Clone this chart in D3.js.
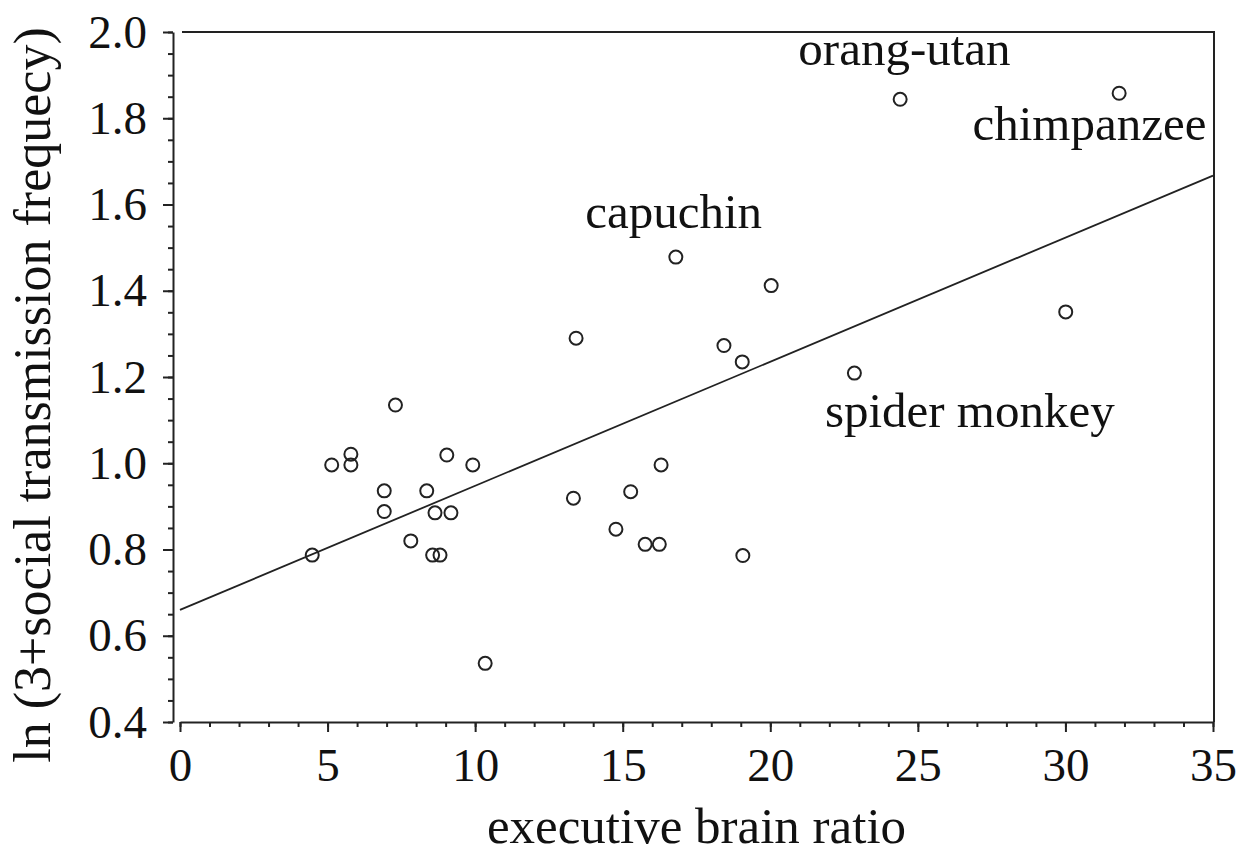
<!DOCTYPE html>
<html>
<head>
<meta charset="utf-8">
<script src="https://cdn.jsdelivr.net/npm/d3@7"></script>
<style>
  body { margin: 0; background: #fff; }
  text { font-family: "Liberation Serif", "Times New Roman", serif; fill: #111; }
</style>
</head>
<body>
<script>
// executive brain ratio (x) and ln(3 + social transmission frequency) (y)
const brainRatio = [4.48, 5.14, 5.79, 5.79, 6.92, 6.92, 7.3, 7.82, 8.36, 8.56, 8.64, 8.81, 9.04, 9.18, 9.92,
  10.34, 13.33, 13.42, 14.77, 15.27, 15.76, 16.24, 16.3, 16.8, 18.43, 19.05, 19.07, 20.03, 22.85, 24.4, 30.01, 31.82];
const transmission = [0.787, 0.996, 1.021, 0.996, 0.936, 0.888, 1.135, 0.820, 0.936, 0.787, 0.885, 0.787, 1.019, 0.885, 0.996,
  0.536, 0.919, 1.290, 0.847, 0.934, 0.812, 0.812, 0.996, 1.478, 1.273, 1.235, 0.786, 1.412, 1.209, 1.844, 1.351, 1.858];

// fitted line endpoints
const fitX = [0, 35];
const fitY = [0.66, 1.667];

// annotations
const labelText = ['orang-utan', 'chimpanzee', 'capuchin', 'spider monkey'];
const labelX = [20.95, 26.85, 13.73, 21.85];
const labelY = [1.923, 1.75, 1.545, 1.083];

const xTicks = [0, 5, 10, 15, 20, 25, 30, 35];
const yTicks = [0.4, 0.6, 0.8, 1.0, 1.2, 1.4, 1.6, 1.8, 2.0];

const W = 1259, H = 864;
const plotLeft = 180, plotRight = 1213, plotTop = 32, plotBottom = 722;

const x = d3.scaleLinear().domain([0, 35]).range([plotLeft, plotRight]);
const y = d3.scaleLinear().domain([0.4, 2.0]).range([plotBottom, plotTop]);

const svg = d3.select('body').append('svg')
  .attr('width', W)
  .attr('height', H);

// frame: top and right
svg.append('path')
  .attr('d', `M${plotLeft + 2},${plotTop}H${plotRight + 1}V${plotBottom}`)
  .attr('fill', 'none')
  .attr('stroke', '#222')
  .attr('stroke-width', 2);

// minor ticks
svg.append('g')
  .attr('transform', `translate(0,${plotBottom})`)
  .call(d3.axisBottom(x).tickValues(d3.range(0, 36, 1)).tickSize(5).tickSizeOuter(0).tickFormat(''))
  .call(g => g.select('.domain').remove())
  .selectAll('line').attr('stroke', '#222').attr('stroke-width', 2);

svg.append('g')
  .attr('transform', `translate(${plotLeft - 7},0)`)
  .call(d3.axisLeft(y).tickValues(d3.range(0.4, 2.001, 0.05)).tickSize(5).tickSizeOuter(0).tickFormat(''))
  .call(g => g.select('.domain').remove())
  .selectAll('line').attr('stroke', '#222').attr('stroke-width', 2);

// major axes
const xAxis = svg.append('g')
  .attr('transform', `translate(0,${plotBottom})`)
  .call(d3.axisBottom(x).tickValues(xTicks).tickSize(10).tickPadding(16).tickSizeOuter(0).tickFormat(d3.format('d')));

const yAxis = svg.append('g')
  .attr('transform', `translate(${plotLeft - 7},0)`)
  .call(d3.axisLeft(y).tickValues(yTicks).tickSize(10).tickPadding(16).tickSizeOuter(0).tickFormat(d3.format('.1f')));

[xAxis, yAxis].forEach(a => {
  a.selectAll('path, line').attr('stroke', '#222').attr('stroke-width', 2);
  a.selectAll('text')
    .style('font-family', '"Liberation Serif", serif')
    .style('font-size', '47px')
    .attr('fill', '#111');
});

// regression line
svg.append('line')
  .attr('x1', x(fitX[0])).attr('y1', y(fitY[0]))
  .attr('x2', x(fitX[1])).attr('y2', y(fitY[1]))
  .attr('stroke', '#222')
  .attr('stroke-width', 1.8);

// points
svg.append('g')
  .selectAll('circle')
  .data(brainRatio.map((d, i) => [d, transmission[i]]))
  .join('circle')
  .attr('cx', d => x(d[0]))
  .attr('cy', d => y(d[1]))
  .attr('r', 6.5)
  .attr('fill', 'none')
  .attr('stroke', '#222')
  .attr('stroke-width', 2);

// labels
svg.append('g')
  .selectAll('text')
  .data(labelText)
  .join('text')
  .attr('x', (d, i) => x(labelX[i]))
  .attr('y', (d, i) => y(labelY[i]))
  .style('font-size', '49px')
  .text(d => d);

// axis titles
svg.append('text')
  .attr('x', (plotLeft + plotRight) / 2)
  .attr('y', 843)
  .attr('text-anchor', 'middle')
  .style('font-size', '51px')
  .text('executive brain ratio');

svg.append('text')
  .attr('transform', 'translate(50,395) rotate(-90)')
  .attr('text-anchor', 'middle')
  .style('font-size', '52px')
  .text('ln (3+social transmission frequecy)');
</script>
</body>
</html>
